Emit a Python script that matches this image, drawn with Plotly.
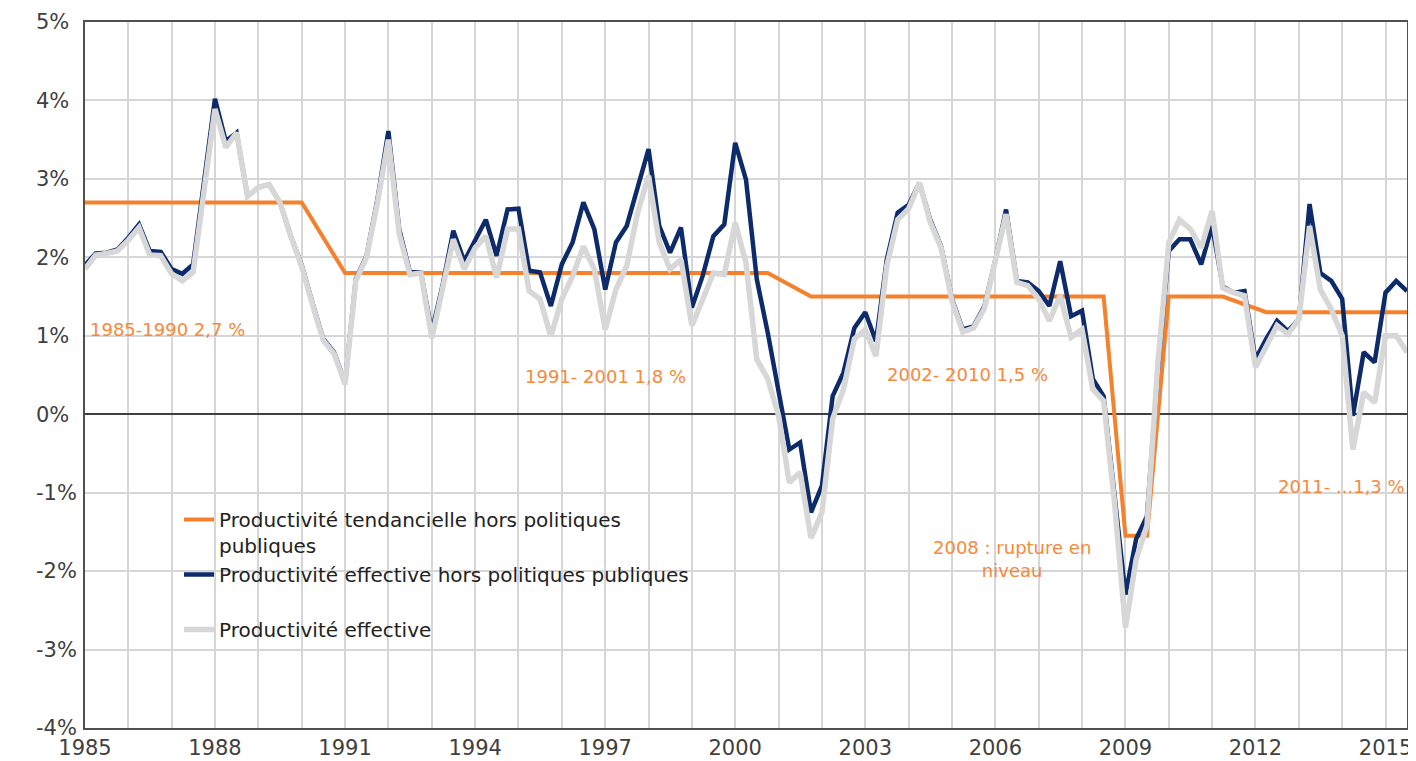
import pandas as pd
import plotly.graph_objects as go

# Quarterly series, 1985Q1 .. 2015Q3 (values in %)
start_quarter = "1985-01-01"
n_quarters = 123

prod_hors_pp = [
    1.90, 2.05, 2.06, 2.10,   # 1985
    2.25, 2.42, 2.08, 2.07,   # 1986
    1.85, 1.79, 1.91, 3.00,   # 1987
    4.02, 3.48, 3.59, 2.78,   # 1988
    2.89, 2.93, 2.70, 2.27,   # 1989
    1.90, 1.42, 0.96, 0.79,   # 1990
    0.40, 1.72, 2.02, 2.74,   # 1991
    3.61, 2.36, 1.81, 1.81,   # 1992
    1.05, 1.64, 2.34, 1.95,   # 1993
    2.23, 2.48, 2.02, 2.61,   # 1994
    2.62, 1.83, 1.81, 1.38,   # 1995
    1.91, 2.19, 2.70, 2.36,   # 1996
    1.59, 2.19, 2.40, 2.90,   # 1997
    3.38, 2.40, 2.06, 2.38,   # 1998
    1.36, 1.76, 2.27, 2.42,   # 1999
    3.46, 2.99, 1.72, 1.04,   # 2000
    0.28, -0.45, -0.36, -1.25,  # 2001
    -0.91, 0.23, 0.53, 1.10,  # 2002
    1.30, 0.93, 1.97, 2.57,   # 2003
    2.67, 2.95, 2.48, 2.14,   # 2004
    1.47, 1.08, 1.12, 1.38,   # 2005
    1.97, 2.61, 1.70, 1.68,   # 2006
    1.57, 1.38, 1.95, 1.25,   # 2007
    1.32, 0.45, 0.23, -1.00,  # 2008
    -2.30, -1.59, -1.30, 0.55,  # 2009
    2.08, 2.23, 2.23, 1.91,   # 2010
    2.40, 1.63, 1.55, 1.57,   # 2011
    0.70, 0.96, 1.19, 1.06,   # 2012
    1.21, 2.68, 1.80, 1.70,   # 2013
    1.47, -0.02, 0.79, 0.66,  # 2014
    1.55, 1.70, 1.57,         # 2015
]

prod_effective = [
    1.85, 2.03, 2.05, 2.08,   # 1985
    2.22, 2.38, 2.03, 2.02,   # 1986
    1.79, 1.70, 1.81, 2.90,   # 1987
    3.89, 3.40, 3.59, 2.78,   # 1988
    2.89, 2.93, 2.70, 2.27,   # 1989
    1.88, 1.40, 0.94, 0.77,   # 1990
    0.38, 1.70, 2.00, 2.70,   # 1991
    3.50, 2.30, 1.78, 1.80,   # 1992
    0.97, 1.60, 2.23, 1.85,   # 1993
    2.12, 2.27, 1.74, 2.36,   # 1994
    2.36, 1.57, 1.47, 0.99,   # 1995
    1.47, 1.76, 2.14, 1.85,   # 1996
    1.08, 1.59, 1.89, 2.57,   # 1997
    3.04, 2.19, 1.85, 1.97,   # 1998
    1.13, 1.46, 1.80, 1.78,   # 1999
    2.44, 1.93, 0.70, 0.45,   # 2000
    -0.02, -0.87, -0.74, -1.58,  # 2001
    -1.25, -0.06, 0.32, 0.96,  # 2002
    1.08, 0.74, 1.89, 2.48,   # 2003
    2.62, 2.95, 2.45, 2.12,   # 2004
    1.44, 1.05, 1.10, 1.35,   # 2005
    1.92, 2.55, 1.68, 1.64,   # 2006
    1.47, 1.19, 1.51, 0.98,   # 2007
    1.08, 0.32, 0.17, -1.13,  # 2008
    -2.72, -1.85, -1.42, 0.65,  # 2009
    2.19, 2.48, 2.36, 2.12,   # 2010
    2.59, 1.61, 1.55, 1.51,   # 2011
    0.60, 0.87, 1.13, 1.02,   # 2012
    1.21, 2.40, 1.59, 1.34,   # 2013
    1.00, -0.45, 0.28, 0.15,  # 2014
    1.00, 1.00, 0.79,         # 2015
]

# Trend productivity: break points of the piecewise trend
trend_dates = ["1985-01-01", "1990-01-01", "1991-01-01", "2000-10-01", "2001-10-01",
               "2008-07-01", "2009-01-01", "2009-07-01", "2010-01-01", "2011-04-01",
               "2012-04-01", "2015-07-01"]
trend_values = [2.7, 2.7, 1.8, 1.8, 1.5, 1.5, -1.55, -1.55, 1.5, 1.5, 1.3, 1.3]

y_tick_values = [-4, -3, -2, -1, 0, 1, 2, 3, 4, 5]
y_tick_labels = ["-4%", "-3%", "-2%", "-1%", "0%", "1%", "2%", "3%", "4%", "5%"]

names = [
    "Productivité tendancielle hors politiques<br>publiques",
    "Productivité effective hors politiques publiques<br>&nbsp;",
    "Productivité effective",
]

annotations_text = [
    ("1985-1990 2,7 %", "1985-01-25", 1.08, "left"),
    ("1991- 2001 1,8 %", "1997-01-01", 0.48, "center"),
    ("2002- 2010 1,5 %", "2005-05-15", 0.51, "center"),
    ("2008 : rupture en<br>niveau", "2006-05-20", -1.85, "center"),
    ("2011- ...1,3 %", "2015-07-01", -0.92, "right"),
]

quarters = pd.date_range(start_quarter, periods=n_quarters, freq="QS")

ORANGE = "#f5812c"
NAVY = "#0d2b6b"
GREY = "#d7d7d7"
FONT = "DejaVu Sans"

fig = go.Figure()
fig.add_trace(go.Scatter(x=pd.to_datetime(trend_dates), y=trend_values, mode="lines",
                         name=names[0], line=dict(color=ORANGE, width=4)))
fig.add_trace(go.Scatter(x=quarters, y=prod_hors_pp, mode="lines",
                         name=names[1], line=dict(color=NAVY, width=4.5)))
# drawn against the twin y axis (same scale) that carries the left-aligned % labels
fig.add_trace(go.Scatter(x=quarters, y=prod_effective, mode="lines", yaxis="y2",
                         name=names[2], line=dict(color=GREY, width=5.5)))

for text, x, y, anchor in annotations_text:
    fig.add_annotation(x=x, y=y, xref="x", yref="y", text=text, showarrow=False,
                       xanchor=anchor, yanchor="middle",
                       font=dict(family=FONT, size=18, color="#f7893a"))

# the page body has an 8px margin: the figure is drawn 8px right/down
OFF = 8
W, H = 1416 - OFF, 761 - OFF
L, R, T, B = 20 - OFF, 9, 22 - OFF, 33
paper_w = W - L - R
paper_h = H - T - B

def px_x(x_screen):
    return (x_screen - OFF - L) / paper_w

def px_y(y_screen):
    return 1 - (y_screen - OFF - T) / paper_h

fig.update_layout(
    width=W, height=H,
    margin=dict(l=L, r=R, t=T, b=B, autoexpand=False),
    paper_bgcolor="white", plot_bgcolor="white",
    font=dict(family=FONT, size=21, color="#404040"),
    showlegend=True,
    legend=dict(x=px_x(179), y=px_y(500), xanchor="left", yanchor="top",
                bgcolor="rgba(0,0,0,0)", valign="top",
                font=dict(family=FONT, size=20, color="#222222"),
                tracegroupgap=0),
    xaxis=dict(
        type="date", automargin=False,
        domain=[px_x(85), 1],
        range=["1985-01-01", "2015-07-01"],
        tick0="1985-01-01", dtick="M36", tickformat="%Y",
        showgrid=True, gridcolor="#d6d6d6", gridwidth=2,
        minor=dict(dtick="M12", tick0="1985-01-01", showgrid=True,
                   gridcolor="#d6d6d6", gridwidth=2),
        showline=True, linecolor="#505050", linewidth=2, mirror=True,
        ticks="", tickfont=dict(family=FONT, size=21, color="#404040"),
        zeroline=False,
    ),
    yaxis=dict(
        automargin=False,
        range=[-4, 5], tickvals=y_tick_values, showticklabels=False,
        showgrid=True, gridcolor="#d6d6d6", gridwidth=2,
        zeroline=True, zerolinecolor="#404040", zerolinewidth=1.5,
        showline=True, linecolor="#505050", linewidth=2, mirror=True,
        ticks="",
    ),
    yaxis2=dict(
        automargin=False,
        overlaying="y", side="right", anchor="free", position=px_x(35),
        range=[-4, 5], tickvals=y_tick_values, ticktext=y_tick_labels,
        showgrid=False, zeroline=False, showline=False, ticks="",
        tickfont=dict(family=FONT, size=21, color="#404040"),
    ),
)

fig.write_html("out.html")
